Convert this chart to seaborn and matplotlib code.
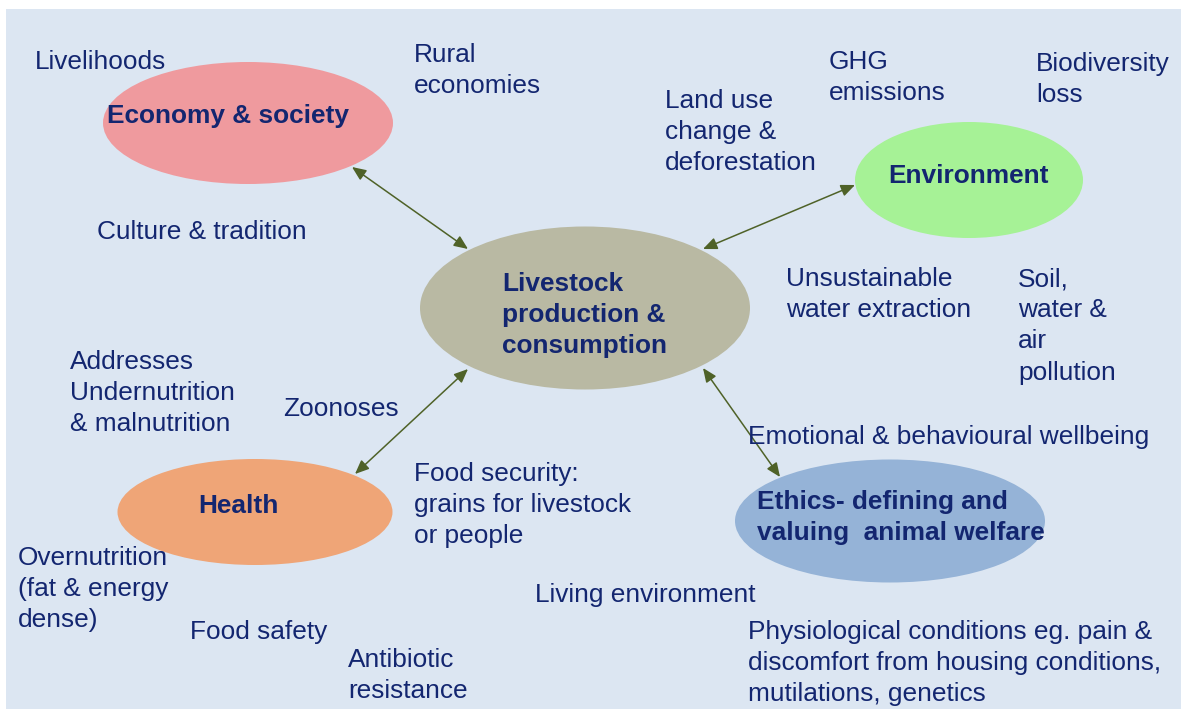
import matplotlib
matplotlib.use("Agg")
import matplotlib.pyplot as plt
from matplotlib.patches import Ellipse, Rectangle
import seaborn as sns

sns.set_theme(style="white")
plt.rcParams['font.family'] = ['Liberation Sans', 'DejaVu Sans']

# ---- data ----
node_names = ["Economy & society", "Livestock\nproduction &\nconsumption", "Environment",
              "Health", "Ethics- defining and\nvaluing  animal welfare"]
node_cx = [248, 585, 969, 255, 890]
node_cy = [123, 308, 180, 512, 521]
node_w = [290, 330, 228, 275, 310]
node_h = [122, 163, 116, 106, 123]
node_colors = ["#EF9A9E", "#B9B9A3", "#A6F296", "#EFA577", "#95B3D7"]
node_text_x = [107, 502, 888, 198, 757]
node_text_y = [114, 282, 174, 504, 500]

arrow_start = [(352, 167), (855, 185), (355, 474), (780, 477)]
arrow_end = [(468, 249), (703, 249), (468, 369), (703, 368)]

labels = ["Livelihoods", "Rural\neconomies", "Culture & tradition",
          "Land use\nchange &\ndeforestation", "GHG\nemissions", "Biodiversity\nloss",
          "Unsustainable\nwater extraction", "Soil,\nwater &\nair\npollution",
          "Addresses\nUndernutrition\n& malnutrition", "Zoonoses",
          "Emotional & behavioural wellbeing",
          "Food security:\ngrains for livestock\nor people",
          "Overnutrition\n(fat & energy\ndense)", "Living environment", "Food safety",
          "Physiological conditions eg. pain &\ndiscomfort from housing conditions,\nmutilations, genetics",
          "Antibiotic\nresistance"]
label_x = [35, 414, 97, 665, 829, 1036, 786, 1018, 70, 283, 748, 414, 18, 535, 190, 748, 348]
label_y = [60, 53, 230, 99, 60, 62, 277, 277, 360, 407, 435, 472, 556, 593, 630, 630, 658]

W, H = 1181, 709
LINE = 31.2
TXT = "#132670"
FS = 18.9

fig = plt.figure(figsize=(W / 100, H / 100), dpi=100)
ax = fig.add_axes([0, 0, 1, 1])
ax.set_xlim(0, W)
ax.set_ylim(H, 0)
ax.axis("off")
fig.patch.set_facecolor("white")
ax.add_patch(Rectangle((6, 9), W - 6, H - 9, facecolor="#DCE6F2", edgecolor="none", zorder=0))

for cx, cy, w, h, c in zip(node_cx, node_cy, node_w, node_h, node_colors):
    ax.add_patch(Ellipse((cx, cy), w, h, facecolor=c, edgecolor="none", zorder=1))

for (x0, y0), (x1, y1) in zip(arrow_start, arrow_end):
    ax.annotate("", xy=(x1, y1), xytext=(x0, y0),
                arrowprops=dict(arrowstyle="<|-|>,head_length=0.7,head_width=0.3",
                                color="#4F6228", lw=1.1, shrinkA=0, shrinkB=0), zorder=3)

def draw_lines(text, x, y, bold=False):
    for i, line in enumerate(text.split("\n")):
        ax.text(x, y + 2 + i * LINE, line, fontsize=FS, color=TXT, ha="left", va="center",
                fontweight="bold" if bold else "normal", zorder=4)

for t, x, y in zip(node_names, node_text_x, node_text_y):
    draw_lines(t, x, y, bold=True)
for t, x, y in zip(labels, label_x, label_y):
    draw_lines(t, x, y)

fig.savefig("out.png", dpi=100)
